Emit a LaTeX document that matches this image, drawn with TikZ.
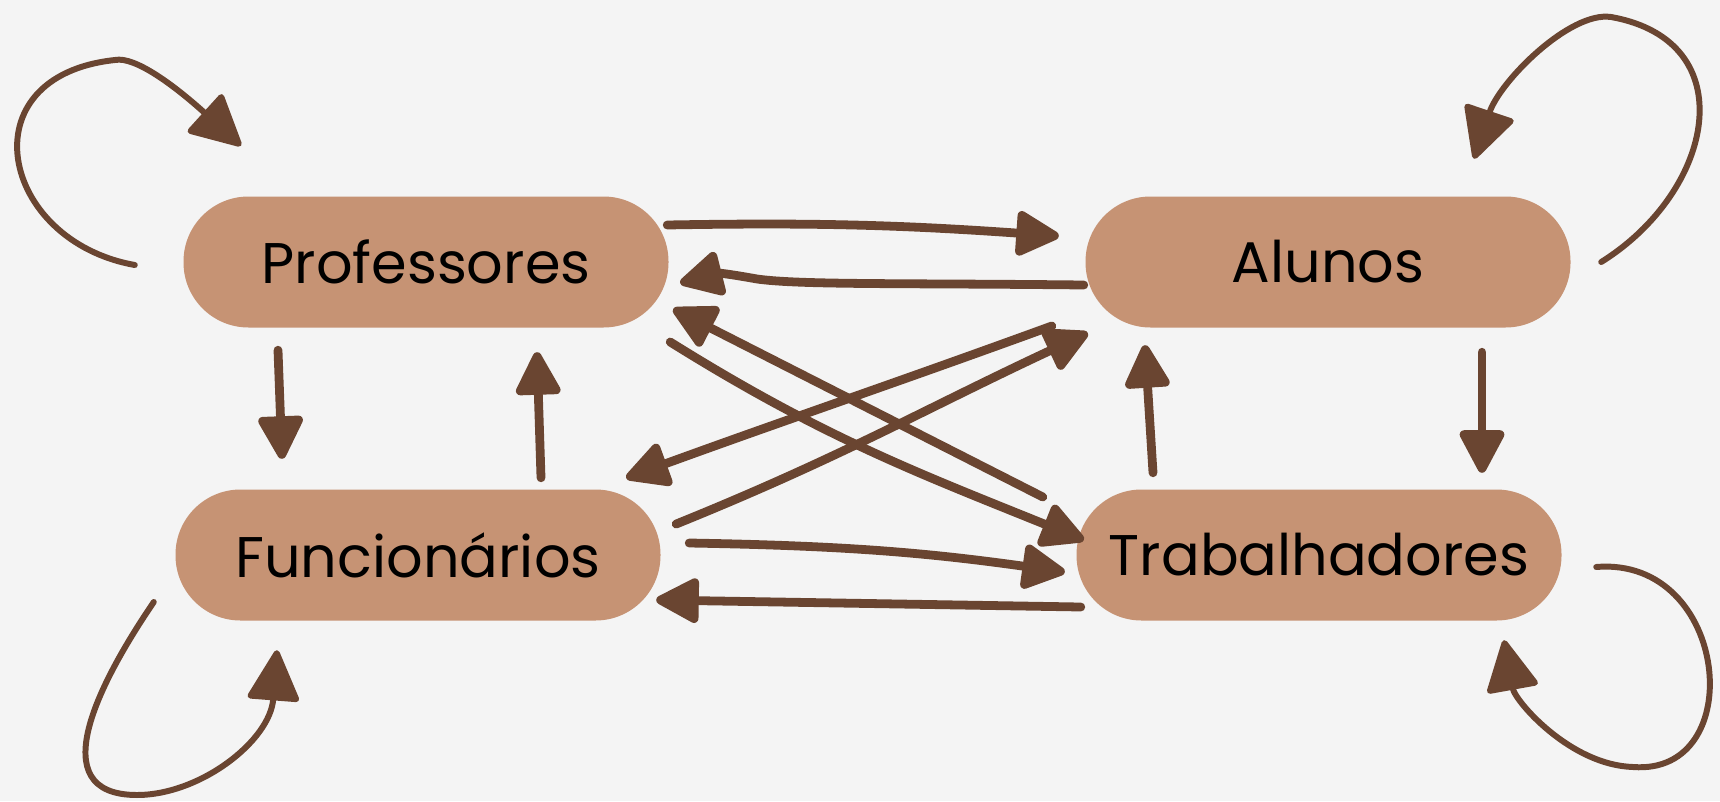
\documentclass[tikz,border=0pt]{standalone}
\usepackage{fontspec}
\setmainfont{Poppins}
\usetikzlibrary{arrows.meta,calc}
\definecolor{bg}{HTML}{F4F4F4}
\definecolor{boxc}{HTML}{C69374}
\definecolor{arr}{HTML}{6A4531}
\begin{document}
\begin{tikzpicture}[x=0.1mm,y=0.1mm,
  box/.style={fill=boxc, rounded corners=6.5mm, minimum width=48.5mm, minimum height=13.1mm, inner sep=0pt, font=\fontsize{16.3}{18}\selectfont},
  link/.style={draw=arr, line width=2.5pt, line cap=round, line join=round, -{Triangle[length=4.8mm,width=4.8mm,round,fill=arr]}},
  selfloop/.style={link, line width=1.7pt, -{Triangle[length=5.4mm,width=5.4mm,round,fill=arr]}}]
\fill[bg] (0,0) rectangle (1720,801);
\useasboundingbox (0,0) rectangle (1720,801);
\node[box] (prof) at (426,539) {Professores};
\node[box] (alun) at (1328,539) {Alunos};
\node[box] (func) at (418,246) {Funcionários};
\node[box] (trab) at (1319,246) {Trabalhadores};
% horizontal / diagonal connectors
\draw[link] ($(prof.east)+(-2,37)$) to[out=1,in=176] ($(alun.west)+(-26,26)$);
\draw[link] ($(alun.west)+(-1,-23)$) .. controls (900,518) and (800,516) .. (757,522) .. controls (735,526) and (720,528) .. ($(prof.east)+(11,-21)$);
\draw[link] ($(trab.west)+(-33,58)$) -- ($(prof.east)+(4,-47)$);
\draw[link] ($(prof.east)+(1,-80)$) to[out=-32,in=158] ($(trab.west)+(8,15)$);
\draw[link] ($(alun.west)+(-33,-64)$) to[out=200,in=20] ($(func.east)+(-35,77)$);
\draw[link] ($(func.east)+(15,31)$) to[out=22,in=205] ($(alun.west)+(3,-71)$);
\draw[link] ($(func.east)+(28,12)$) to[out=-1,in=172] ($(trab.west)+(-11,-17)$);
\draw[link] ($(trab.west)+(5,-52)$) -- ($(func.east)+(-5,-45)$);
% vertical connectors
\draw[link] ($(prof.south)+(-148,-22)$) -- ($(func.north)+(-136,30)$);
\draw[link] ($(func.north)+(123,11)$) -- ($(prof.south)+(111,-24)$);
\draw[link] ($(trab.north)+(-166,16)$) -- ($(alun.south)+(-183,-17)$);
\draw[link] ($(alun.south)+(154,-24)$) -- ($(trab.north)+(163,16)$);
% self loops
\draw[selfloop] ($(prof.west)+(-48,-3)$) .. controls (0,560) and (-35,725) .. (115,741) .. controls (135,745) and (175,715) .. ($(prof.north)+(-185,50)$);
\draw[selfloop] ($(alun.east)+(30,0)$) .. controls (1715,610) and (1745,760) .. (1611,784) .. controls (1570,790) and (1500,720) .. ($(alun.north)+(146,37)$);
\draw[selfloop] ($(func.west)+(-21,-47)$) .. controls (100,120) and (40,6) .. (137,6) .. controls (200,6) and (270,60) .. ($(func.south)+(-141,-29)$);
\draw[selfloop] ($(trab.east)+(34,-12)$) .. controls (1730,245) and (1750,25) .. (1633,34) .. controls (1570,36) and (1515,100) .. ($(trab.south)+(185,-19)$);
\end{tikzpicture}
\end{document}
